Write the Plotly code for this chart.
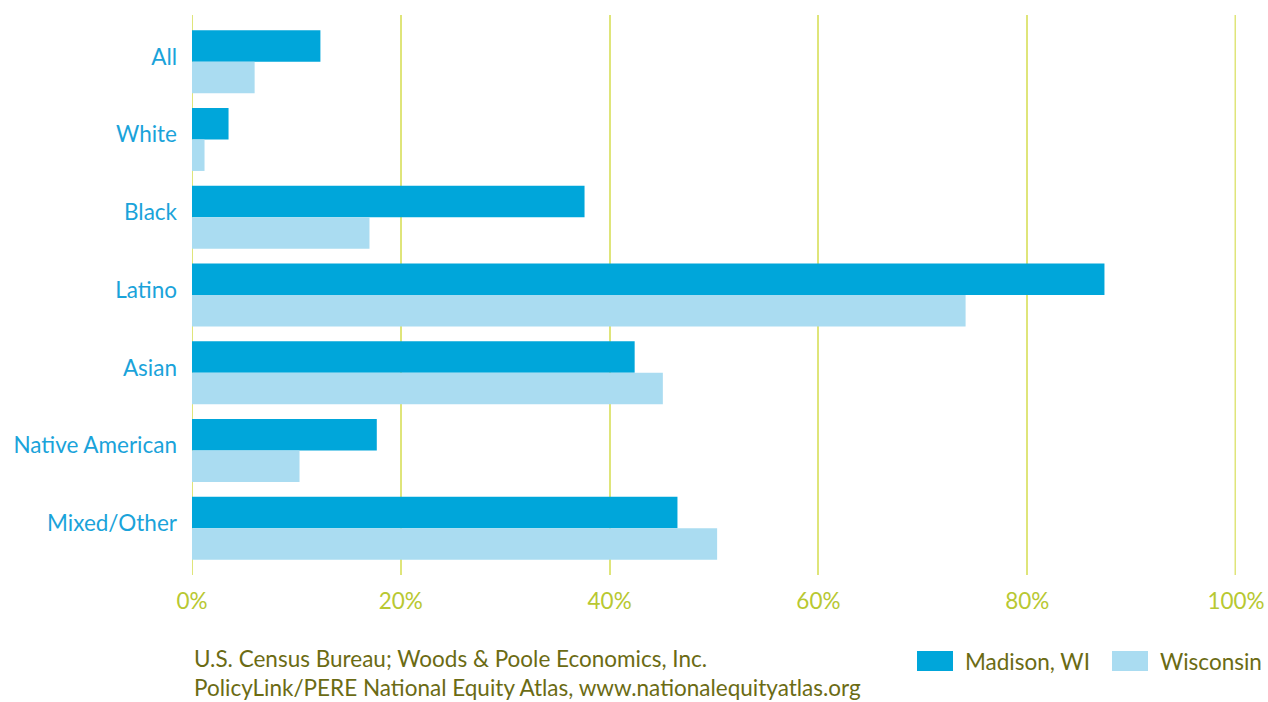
import plotly.graph_objects as go

categories = ["All", "White", "Black", "Latino", "Asian", "Native American", "Mixed/Other"]
madison = [12.3, 3.5, 37.6, 87.4, 42.4, 17.7, 46.5]
wisconsin = [6.0, 1.2, 17.0, 74.1, 45.1, 10.3, 50.3]
series_names = ["Madison, WI", "Wisconsin"]
tick_vals = [0, 20, 40, 60, 80, 100]
tick_text = ["0%", "20%", "40%", "60%", "80%", "100%"]
source_lines = ["U.S. Census Bureau; Woods & Poole Economics, Inc.",
                "PolicyLink/PERE National Equity Atlas, www.nationalequityatlas.org"]

c_mad = "#00a6da"
c_wis = "#aadcf1"
c_grid = "#dfe57a"
font_family = "Lato, 'Noto Sans', sans-serif"
FS = 22.5

W, H = 1268, 702
ML, MR, MT, MB = 192, 32, 15, 127

fig = go.Figure()
fig.add_trace(go.Bar(y=categories, x=madison, orientation="h", name=series_names[0],
                     marker=dict(color=c_mad, line=dict(width=0)), showlegend=False))
fig.add_trace(go.Bar(y=categories, x=wisconsin, orientation="h", name=series_names[1],
                     marker=dict(color=c_wis, line=dict(width=0)), showlegend=False))

fig.update_layout(
    template="none",
    width=W, height=H,
    margin=dict(l=ML, r=MR, t=MT, b=MB, pad=0),
    paper_bgcolor="white", plot_bgcolor="white",
    barmode="group", bargap=0.19, bargroupgap=0,
    font=dict(family=font_family, size=FS),
    xaxis=dict(range=[0, 100], tickvals=tick_vals, ticktext=tick_text,
               showgrid=True, gridcolor=c_grid, gridwidth=1.5,
               zeroline=False, showline=False, ticks="",
               tickfont=dict(color="#b8c832", size=FS), ticklabelstandoff=10),
    yaxis=dict(type="category", range=[6.6, -0.6], autorange=False,
               showgrid=False, zeroline=False, showline=False, ticks="",
               tickfont=dict(color="#1aa3da", size=FS), ticklabelstandoff=14,
               ticklabelshift=5),
)

# edge gridlines (0% and 100%) so they are not clipped by the plot area
for xv, lw in ((tick_vals[0], 2), (tick_vals[-1], 3)):
    fig.add_shape(type="line", xref="x", yref="paper", x0=xv, x1=xv, y0=0, y1=1,
                  line=dict(color=c_grid, width=lw), layer="below")

plot_h = H - MT - MB
plot_w = W - ML - MR
def py(pix):
    return (H - MB - pix) / plot_h
def px(pix):
    return (pix - ML) / plot_w

fig.add_annotation(x=0, xref="paper", y=py(673), yref="paper",
                   text=source_lines[0] + "<br>" + source_lines[1],
                   showarrow=False, xanchor="left", yanchor="middle", align="left",
                   font=dict(color="#6b6b14", size=FS))

# Legend swatches
for name, col, sx in [(series_names[0], c_mad, 917), (series_names[1], c_wis, 1112)]:
    fig.add_shape(type="rect", xref="paper", yref="paper",
                  x0=px(sx), x1=px(sx + 36), y0=py(671), y1=py(651),
                  fillcolor=col, line=dict(width=0))
    fig.add_annotation(x=px(sx + 46), xref="paper", y=py(661), yref="paper",
                       text=name, showarrow=False, xanchor="left", yanchor="middle",
                       font=dict(color="#6b6b14", size=FS))

fig.write_html("out.html", config={"displayModeBar": False},
               post_script="document.body.style.margin='0';document.body.style.overflow='hidden';")
